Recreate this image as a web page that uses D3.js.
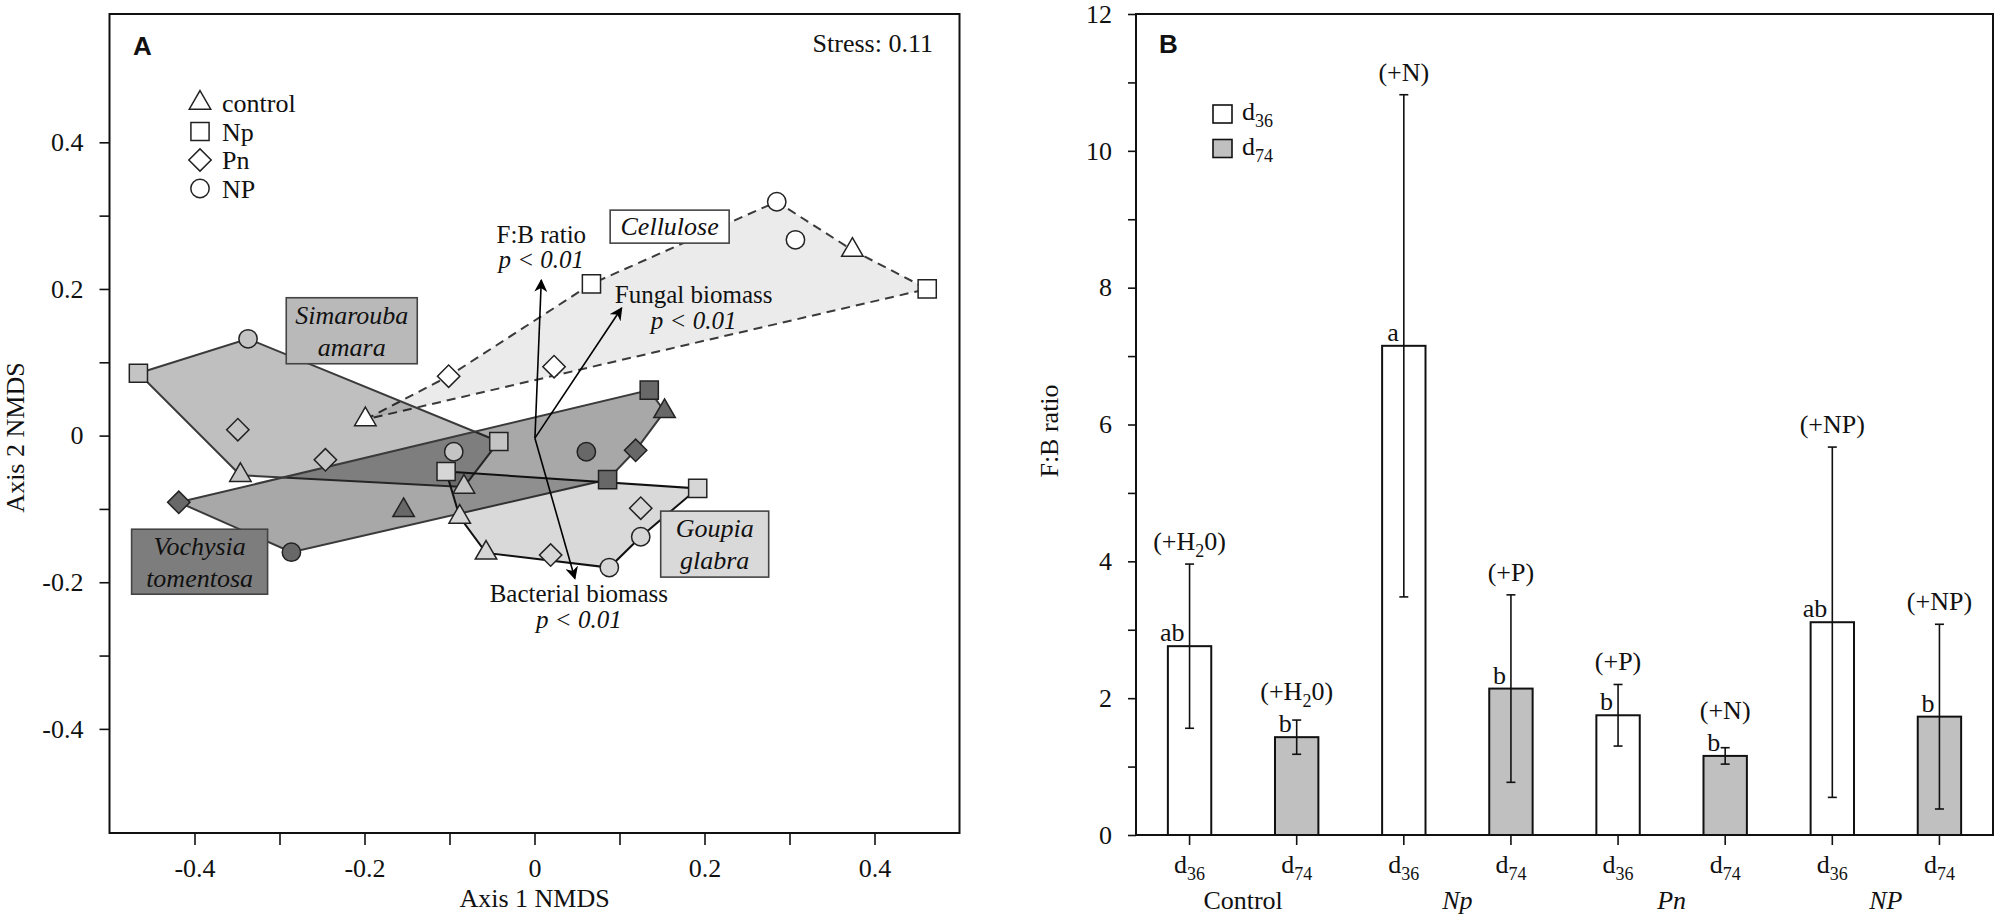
<!DOCTYPE html>
<html><head><meta charset="utf-8">
<script src="https://cdn.jsdelivr.net/npm/d3@7"></script>
<style>
body{margin:0;background:#fff}
text{font-family:"Liberation Serif","Times New Roman",serif;fill:#111}
text.panel{font-family:"Liberation Sans",Arial,sans-serif;font-weight:bold}
</style></head>
<body><svg id="c" width="2000" height="921"></svg>
<script>
// ================= DATA =================
// Panel A: NMDS coordinates per litter type (2 replicates x 4 treatments)
const treatments = ["control","Np","Pn","NP"];
const celluloseX = [-0.199,-0.101,0.023,0.067,0.285,0.307,0.374,0.462];
const celluloseY = [0.022,0.081,0.094,0.207,0.319,0.267,0.253,0.200];
const celluloseT = ["control","Pn","Pn","Np","NP","NP","control","Np"];
const celluloseHull = [0,1,3,4,6,7];

const simaroubaX = [-0.466,-0.337,-0.349,-0.346,-0.246,-0.042,-0.083,-0.095];
const simaroubaY = [0.085,0.132,0.008,-0.054,-0.033,-0.008,-0.070,-0.022];
const simaroubaT = ["Np","NP","Pn","control","Pn","Np","control","NP"];
const simaroubaHull = [0,1,5,6,3];

const vochysiaX = [-0.4185,-0.286,-0.154,0.061,0.135,0.153,0.119,0.086];
const vochysiaY = [-0.091,-0.159,-0.102,-0.022,0.062,0.033,-0.020,-0.060];
const vochysiaT = ["Pn","NP","control","NP","Np","control","Pn","Np"];
const vochysiaHull = [0,4,5,6,7,1];

const goupiaX = [-0.104,-0.088,-0.057,0.019,0.088,0.125,0.125,0.192];
const goupiaY = [-0.049,-0.111,-0.160,-0.163,-0.180,-0.138,-0.099,-0.072];
const goupiaT = ["Np","control","control","Pn","NP","NP","Pn","Np"];
const goupiaHull = [0,7,5,4,2,1];

// fitted vectors
const vectorNames = ["F:B ratio","Fungal biomass","Bacterial biomass"];
const vectorP = ["p < 0.01","p < 0.01","p < 0.01"];
const vectorX = [0.008,0.1025,0.0475];
const vectorY = [0.212,0.174,-0.195];
const vectorOrigin = [0.0005,-0.0035];

const axisATicks = [-0.4,-0.3,-0.2,-0.1,0,0.1,0.2,0.3,0.4];
const axisATickLabels = ["-0.4","","-0.2","","0","","0.2","","0.4"];
const stressText = "Stress: 0.11";

// Panel B: F:B ratio
const groups = ["Control","Np","Pn","NP"];
const days = ["d36","d74"];
const fbMean = [2.76,1.43,7.15,2.14,1.75,1.156,3.11,1.73];
const fbErr  = [1.20,0.25,3.67,1.37,0.45,0.12,2.56,1.35];
const fbLetters = ["ab","b","a","b","b","b","ab","b"];
const fbAdded = ["(+H₂0)","(+H₂0)","(+N)","(+P)","(+P)","(+N)","(+NP)","(+NP)"];
const axisBTicks = [0,1,2,3,4,5,6,7,8,9,10,11,12];
const axisBTickLabels = ["0","","2","","4","","6","","8","","10","","12"];

// ================= DRAW =================
const svg = d3.select("#c");
const FS = 26, SUB = 18;

const defs = svg.append("defs");
defs.append("marker").attr("id","ah").attr("viewBox","0 0 10 10")
  .attr("refX",9).attr("refY",5).attr("markerWidth",13).attr("markerHeight",13)
  .attr("markerUnits","userSpaceOnUse").attr("orient","auto")
  .append("path").attr("d","M0,0 L10,5 L0,10 L3,5 Z").attr("fill","#000");

// ---------- Panel A ----------
const A = {l:109.5, r:959.5, t:14, b:833};
const xA = d3.scaleLinear().domain([-0.5,0.5]).range([A.l,A.r]);
const yA = d3.scaleLinear().domain([-0.542,0.575]).range([A.b,A.t]);
const gA = svg.append("g");

const species = [
  {x:celluloseX,y:celluloseY,t:celluloseT,hull:celluloseHull,fill:"#ebebeb",stroke:"#3a3a3a",sw:2,dash:"9,6",sym:"#ffffff"},
  {x:simaroubaX,y:simaroubaY,t:simaroubaT,hull:simaroubaHull,fill:"rgba(0,0,0,0.25)",stroke:"#3a3a3a",sw:2,dash:null,sym:"#c4c4c4"},
  {x:vochysiaX,y:vochysiaY,t:vochysiaT,hull:vochysiaHull,fill:"rgba(0,0,0,0.34)",stroke:"#3a3a3a",sw:2,dash:null,sym:"#686868"},
  {x:goupiaX,y:goupiaY,t:goupiaT,hull:goupiaHull,fill:"rgba(0,0,0,0.15)",stroke:"#111",sw:2,dash:null,sym:"#d6d6d6"}
];
const line = d3.line().curve(d3.curveLinearClosed);
species.forEach(s=>{
  gA.append("path")
    .attr("d", line(s.hull.map(i=>[xA(s.x[i]), yA(s.y[i])])))
    .attr("fill", s.fill).attr("stroke", s.stroke).attr("stroke-width", s.sw)
    .attr("stroke-dasharray", s.dash);
});

// label boxes
const boxes = [
  {lines:["Cellulose"], cx:0.159, cy:0.285, w:119, h:33, fill:"#ffffff"},
  {lines:["Simarouba","amara"], cx:-0.215, cy:0.143, w:131, h:66, fill:"#b9b9b9"},
  {lines:["Vochysia","tomentosa"], cx:-0.394, cy:-0.172, w:136, h:65, fill:"#7d7d7d"},
  {lines:["Goupia","glabra"], cx:0.212, cy:-0.148, w:108, h:66, fill:"#d9d9d9"}
];
boxes.forEach(b=>{
  const cx = xA(b.cx), cy = yA(b.cy);
  gA.append("rect").attr("x",cx-b.w/2).attr("y",cy-b.h/2).attr("width",b.w).attr("height",b.h)
    .attr("fill",b.fill).attr("stroke","#444").attr("stroke-width",1.6);
  const offs = b.lines.length===1 ? [8] : [-7,25];
  b.lines.forEach((t,i)=>{
    gA.append("text").attr("x",cx).attr("y",cy+offs[i]).attr("text-anchor","middle")
      .attr("font-size",FS).attr("font-style","italic").text(t);
  });
});

// vectors
const vecLabelOff = [[0,-37,-12],[72,-5,21],[4,23,49]];
vectorX.forEach((vx,i)=>{
  gA.append("line").attr("x1",xA(vectorOrigin[0])).attr("y1",yA(vectorOrigin[1]))
    .attr("x2",xA(vx)).attr("y2",yA(vectorY[i]))
    .attr("stroke","#000").attr("stroke-width",1.6).attr("marker-end","url(#ah)");
});

// symbols
const symType = {control:d3.symbolTriangle, Np:d3.symbolSquare, Pn:d3.symbolSquare, NP:d3.symbolCircle};
const symSize = {control:200, Np:330, Pn:250, NP:265};
const symRot = {control:0, Np:0, Pn:45, NP:0};
function drawSym(g, t, px, py, fill){
  g.append("path").attr("d", d3.symbol().type(symType[t]).size(symSize[t])())
    .attr("transform",`translate(${px},${py}) rotate(${symRot[t]})`)
    .attr("fill",fill).attr("stroke","#222").attr("stroke-width",1.5);
}
species.forEach(s=>{
  s.x.forEach((vx,i)=> drawSym(gA, s.t[i], xA(vx), yA(s.y[i]), s.sym));
});

// vector labels
vectorX.forEach((vx,i)=>{
  const o = vecLabelOff[i];
  const px = xA(vx)+o[0], py = yA(vectorY[i]);
  gA.append("text").attr("x",px).attr("y",py+o[1]).attr("text-anchor","middle").attr("font-size",25).text(vectorNames[i]);
  gA.append("text").attr("x",px).attr("y",py+o[2]).attr("text-anchor","middle").attr("font-size",25).attr("font-style","italic").text(vectorP[i]);
});

// frame + axes A
gA.append("rect").attr("x",A.l).attr("y",A.t).attr("width",A.r-A.l).attr("height",A.b-A.t)
  .attr("fill","none").attr("stroke","#111").attr("stroke-width",2);
const axA_x = gA.append("g").attr("transform",`translate(0,${A.b})`)
  .call(d3.axisBottom(xA).tickValues(axisATicks).tickSize(12).tickPadding(14)
    .tickFormat((d,i)=>axisATickLabels[i]));
const axA_y = gA.append("g").attr("transform",`translate(${A.l},0)`)
  .call(d3.axisLeft(yA).tickValues(axisATicks).tickSize(10).tickPadding(16)
    .tickFormat((d,i)=>axisATickLabels[i]));
[axA_x,axA_y].forEach(a=>{
  a.select(".domain").remove();
  a.selectAll(".tick line").attr("stroke","#111").attr("stroke-width",1.6);
  a.selectAll(".tick text").attr("font-size",FS).attr("fill","#111");
});
axA_x.selectAll(".tick text").attr("dy","0.71em");
gA.append("text").attr("x",xA(0)).attr("y",907).attr("text-anchor","middle").attr("font-size",FS).text("Axis 1 NMDS");
gA.append("text").attr("transform",`translate(24,${(A.t+A.b)/2+14}) rotate(-90)`).attr("text-anchor","middle").attr("font-size",FS).text("Axis 2 NMDS");
gA.append("text").attr("class","panel").attr("x",133).attr("y",55).attr("font-size",26).text("A");
gA.append("text").attr("x",933).attr("y",52).attr("text-anchor","end").attr("font-size",FS).text(stressText);

// legend A
treatments.forEach((t,i)=>{
  const cy = 103 + i*28.5;
  drawSym(gA, t, 200, cy, "#fff");
  gA.append("text").attr("x",222).attr("y",cy+9).attr("font-size",FS).text(t);
});

// ---------- Panel B ----------
const B = {l:1136, r:1993, t:14, b:835};
const idx = d3.range(fbMean.length);
const xB = d3.scaleBand().domain(idx).range([B.l,B.r]).paddingInner(0.595).paddingOuter(0.2975);
const yB = d3.scaleLinear().domain([0,12]).range([B.b,B.t]);
const gB = svg.append("g");
const cx = i => xB(i)+xB.bandwidth()/2;

gB.append("rect").attr("x",B.l).attr("y",B.t).attr("width",B.r-B.l).attr("height",B.b-B.t)
  .attr("fill","none").attr("stroke","#111").attr("stroke-width",2);

gB.selectAll("rect.bar").data(idx).join("rect").attr("class","bar")
  .attr("x",i=>xB(i)).attr("width",xB.bandwidth())
  .attr("y",i=>yB(fbMean[i])).attr("height",i=>yB(0)-yB(fbMean[i]))
  .attr("fill",i=>i%2===0?"#ffffff":"#c0c0c0").attr("stroke","#111").attr("stroke-width",2);

idx.forEach(i=>{
  const x = cx(i), top = yB(fbMean[i]), hi = yB(fbMean[i]+fbErr[i]), lo = yB(fbMean[i]-fbErr[i]);
  gB.append("line").attr("x1",x).attr("x2",x).attr("y1",hi).attr("y2",lo).attr("stroke","#111").attr("stroke-width",1.6);
  [hi,lo].forEach(y=> gB.append("line").attr("x1",x-4.5).attr("x2",x+4.5).attr("y1",y).attr("y2",y).attr("stroke","#111").attr("stroke-width",1.6));
  gB.append("text").attr("x",x-5).attr("y",top-5).attr("text-anchor","end").attr("font-size",FS).text(fbLetters[i]);
  const labY = Math.min(hi, top-23) - 14;
  const t = gB.append("text").attr("x",x).attr("y",labY).attr("text-anchor","middle").attr("font-size",FS);
  const parts = fbAdded[i].split("₂");
  if(parts.length>1){
    t.append("tspan").text(parts[0]);
    t.append("tspan").attr("font-size",SUB).attr("dy",7).text("2");
    t.append("tspan").attr("dy",-7).text(parts[1]);
  } else t.text(fbAdded[i]);
  const dl = gB.append("text").attr("x",x).attr("y",873).attr("text-anchor","middle").attr("font-size",FS);
  const dd = days[i%2];
  dl.append("tspan").text(dd[0]);
  dl.append("tspan").attr("font-size",SUB).attr("dy",7).text(dd.slice(1));
});
groups.forEach((g,j)=>{
  const x = (cx(2*j)+cx(2*j+1))/2;
  gB.append("text").attr("x",x).attr("y",909).attr("text-anchor","middle").attr("font-size",FS)
    .attr("font-style", j===0?"normal":"italic").text(g);
});

const axB_y = gB.append("g").attr("transform",`translate(${B.l},0)`)
  .call(d3.axisLeft(yB).tickValues(axisBTicks).tickSize(8).tickPadding(16).tickFormat((d,i)=>axisBTickLabels[i]));
const axB_x = gB.append("g").attr("transform",`translate(0,${B.b})`)
  .call(d3.axisBottom(xB).tickSize(10).tickFormat(""));
[axB_x,axB_y].forEach(a=>{
  a.select(".domain").remove();
  a.selectAll(".tick line").attr("stroke","#111").attr("stroke-width",1.6);
  a.selectAll(".tick text").attr("font-size",FS).attr("fill","#111");
});
gB.append("text").attr("transform",`translate(1058,431) rotate(-90)`).attr("text-anchor","middle").attr("font-size",FS).text("F:B ratio");
gB.append("text").attr("class","panel").attr("x",1159).attr("y",53).attr("font-size",26).text("B");

// legend B
days.forEach((d,i)=>{
  const y = 105 + i*34.5;
  gB.append("rect").attr("x",1213).attr("y",y).attr("width",19).attr("height",18)
    .attr("fill",i===0?"#fff":"#c0c0c0").attr("stroke","#111").attr("stroke-width",1.6);
  const t = gB.append("text").attr("x",1242).attr("y",y+15).attr("font-size",FS);
  t.append("tspan").text(d[0]);
  t.append("tspan").attr("font-size",SUB).attr("dy",7).text(d.slice(1));
});
</script></body></html>
